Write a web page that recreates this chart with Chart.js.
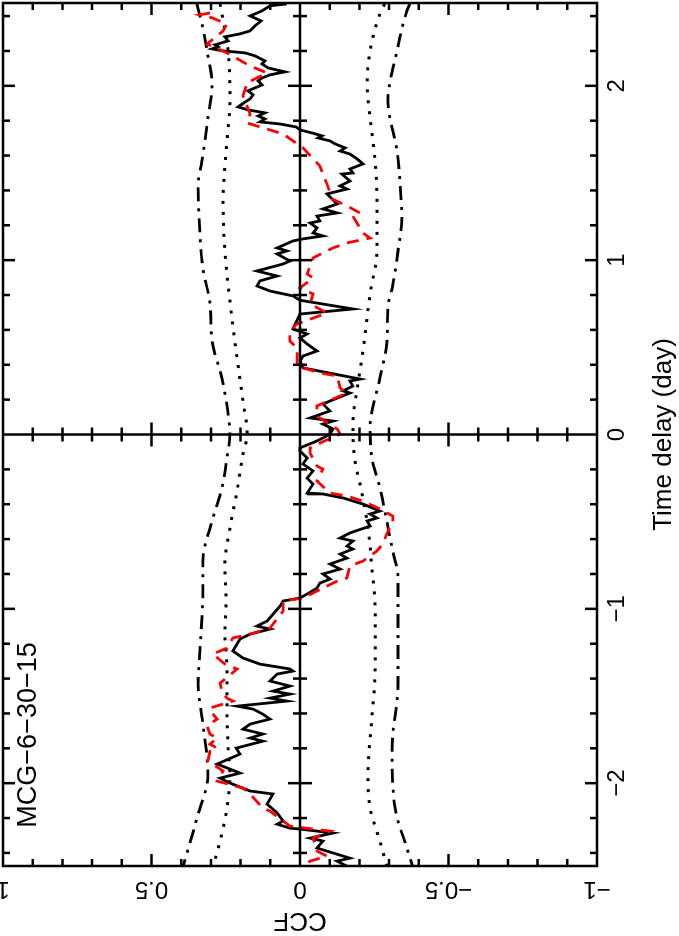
<!DOCTYPE html>
<html>
<head>
<meta charset="utf-8">
<script src="https://cdn.jsdelivr.net/npm/chart.js@4.4.1/dist/chart.umd.min.js"></script>
<style>
  html, body { margin: 0; padding: 0; background: #fff; overflow: hidden; }
  /* the plot is drawn upright and turned a quarter turn to the left */
  #wrap { position: absolute; left: 0; top: 0; width: 936px; height: 679px;
          transform-origin: 0 0; transform: translateY(936px) rotate(-90deg); }
</style>
</head>
<body>
<div id="wrap"><canvas id="ccfChart" width="936" height="679"></canvas></div>
<script>
const lagRange = [-2.475, 2.475];
const ccfRange = [-1, 1];
const ccfTicks = [1, 0.5, 0, -0.5, -1];
const ccfTickLabels = ['1', '0.5', '0', '\u22120.5', '\u22121'];
const sourceName = 'MCG\u22126\u221230\u221215';

// observed CCF (solid black)
const blackLag = [2.470, 2.459, 2.430, 2.401, 2.372, 2.344, 2.315, 2.298, 2.281, 2.258, 2.235, 2.224, 2.212, 2.201, 2.189, 2.172, 2.143, 2.126, 2.103, 2.080, 2.063, 2.045, 2.028, 2.005, 1.988, 1.971, 1.948, 1.925, 1.902, 1.879, 1.862, 1.845, 1.827, 1.810, 1.793, 1.781, 1.764, 1.747, 1.730, 1.713, 1.701, 1.684, 1.667, 1.644, 1.626, 1.609, 1.581, 1.552, 1.523, 1.500, 1.494, 1.454, 1.426, 1.408, 1.380, 1.322, 1.294, 1.271, 1.253, 1.225, 1.213, 1.185, 1.156, 1.139, 1.122, 1.110, 1.070, 1.053, 1.036, 0.995, 0.978, 0.938, 0.909, 0.881, 0.852, 0.823, 0.795, 0.770, 0.720, 0.691, 0.605, 0.577, 0.554, 0.519, 0.479, 0.450, 0.422, 0.382, 0.318, 0.307, 0.278, 0.250, 0.238, 0.209, 0.175, 0.135, 0.095, 0.077, 0.060, 0.032, 0.003, -0.020, -0.037, -0.077, -0.095, -0.135, -0.169, -0.209, -0.250, -0.284, -0.336, -0.341, -0.364, -0.399, -0.439, -0.456, -0.479, -0.496, -0.525, -0.565, -0.594, -0.611, -0.640, -0.657, -0.686, -0.709, -0.743, -0.772, -0.800, -0.829, -0.852, -0.881, -0.915, -0.938, -0.955, -0.984, -1.070, -1.099, -1.116, -1.145, -1.173, -1.202, -1.242, -1.282, -1.317, -1.345, -1.357, -1.374, -1.414, -1.443, -1.472, -1.489, -1.512, -1.529, -1.558, -1.575, -1.604, -1.632, -1.661, -1.690, -1.718, -1.741, -1.759, -1.799, -1.833, -1.890, -1.942, -1.971, -1.999, -2.045, -2.062, -2.120, -2.171, -2.217, -2.235, -2.258, -2.263, -2.286, -2.315, -2.332, -2.372, -2.430, -2.447, -2.476];
const blackCcf = [0.044, 0.101, 0.128, 0.168, 0.131, 0.152, 0.168, 0.202, 0.253, 0.242, 0.286, 0.276, 0.296, 0.263, 0.185, 0.152, 0.118, 0.128, 0.108, 0.051, 0.101, 0.128, 0.141, 0.128, 0.152, 0.175, 0.158, 0.168, 0.189, 0.209, 0.175, 0.118, 0.141, 0.118, 0.135, 0.067, 0.013, 0.000, -0.040, -0.074, -0.061, -0.101, -0.118, -0.152, -0.135, -0.168, -0.192, -0.212, -0.168, -0.178, -0.141, -0.168, -0.135, -0.158, -0.091, -0.125, -0.077, -0.125, -0.057, -0.067, -0.034, -0.057, -0.044, -0.077, -0.010, 0.024, 0.077, 0.044, 0.077, 0.034, 0.057, 0.145, 0.077, 0.135, 0.145, 0.101, 0.024, 0.000, -0.178, 0.000, 0.024, -0.024, 0.000, -0.024, -0.057, -0.010, 0.000, -0.010, -0.202, -0.168, -0.178, -0.145, -0.168, -0.125, -0.077, -0.101, -0.034, -0.111, -0.077, -0.111, -0.101, -0.077, -0.057, 0.000, 0.000, -0.024, -0.010, -0.044, -0.024, -0.044, -0.024, -0.077, -0.145, -0.212, -0.269, -0.236, -0.259, -0.226, -0.236, -0.168, -0.135, -0.178, -0.158, -0.178, -0.135, -0.158, -0.101, -0.135, -0.077, -0.101, -0.067, -0.057, -0.024, 0.000, 0.057, 0.067, 0.111, 0.145, 0.101, 0.168, 0.202, 0.212, 0.226, 0.192, 0.135, 0.034, 0.024, 0.077, 0.101, 0.034, 0.091, 0.034, 0.101, 0.044, 0.212, 0.158, 0.125, 0.101, 0.168, 0.192, 0.125, 0.168, 0.125, 0.215, 0.202, 0.279, 0.202, 0.269, 0.236, 0.168, 0.091, 0.111, 0.077, 0.057, 0.077, 0.034, 0.000, -0.111, -0.034, -0.077, -0.057, -0.168, -0.125, -0.158];

// second CCF (red dashed)
const redLag = [2.418, 2.407, 2.390, 2.355, 2.315, 2.240, 2.189, 2.114, 2.074, 2.017, 1.942, 1.839, 1.787, 1.724, 1.644, 1.540, 1.494, 1.437, 1.351, 1.311, 1.271, 1.253, 1.156, 1.127, 1.099, 1.070, 1.041, 1.013, 0.921, 0.898, 0.841, 0.806, 0.749, 0.697, 0.634, 0.594, 0.536, 0.496, 0.393, 0.353, 0.336, 0.267, 0.238, 0.164, 0.106, 0.032, 0.003, -0.049, -0.077, -0.106, -0.181, -0.198, -0.267, -0.336, -0.353, -0.382, -0.427, -0.468, -0.514, -0.554, -0.628, -0.668, -0.726, -0.754, -0.823, -0.841, -0.898, -0.938, -0.955, -1.013, -1.110, -1.145, -1.167, -1.225, -1.259, -1.317, -1.345, -1.426, -1.472, -1.512, -1.529, -1.569, -1.598, -1.632, -1.672, -1.718, -1.741, -1.776, -1.799, -1.816, -1.873, -1.930, -1.988, -2.028, -2.062, -2.143, -2.160, -2.217, -2.246, -2.275, -2.315, -2.389, -2.418, -2.447, -2.476];
const redCcf = [0.303, 0.337, 0.296, 0.246, 0.259, 0.313, 0.246, 0.168, 0.111, 0.178, 0.192, 0.168, 0.178, 0.057, -0.010, -0.067, -0.077, -0.091, -0.108, -0.158, -0.202, -0.178, -0.212, -0.236, -0.158, -0.111, -0.077, -0.044, -0.024, -0.044, 0.000, -0.044, -0.034, -0.091, 0.010, 0.034, 0.034, 0.010, 0.010, -0.067, -0.125, -0.135, -0.158, -0.057, -0.057, -0.125, -0.135, -0.067, -0.034, -0.034, -0.057, -0.077, -0.057, -0.101, -0.158, -0.212, -0.269, -0.313, -0.313, -0.296, -0.279, -0.259, -0.212, -0.168, -0.158, -0.125, -0.057, -0.010, 0.057, 0.057, 0.101, 0.168, 0.226, 0.246, 0.293, 0.253, 0.212, 0.269, 0.263, 0.246, 0.226, 0.303, 0.296, 0.279, 0.313, 0.303, 0.279, 0.303, 0.279, 0.303, 0.310, 0.259, 0.279, 0.192, 0.168, 0.125, 0.101, 0.057, 0.034, -0.101, -0.044, -0.057, -0.091, -0.034, -0.010];

// significance levels (dotted inner, dash-dot outer)
const dotUpperLag = [2.470, 2.201, 1.913, 1.626, 1.339, 1.053, 0.766, 0.439, 0.192, 0.003, -0.112, -0.324, -0.536, -0.743, -0.955, -1.145, -1.340, -1.529, -1.799, -1.948, -2.143, -2.332, -2.481];
const dotUpper = [0.269, 0.242, 0.236, 0.249, 0.259, 0.253, 0.236, 0.212, 0.192, 0.178, 0.192, 0.212, 0.236, 0.253, 0.249, 0.253, 0.246, 0.246, 0.242, 0.236, 0.246, 0.269, 0.293];
const dotLowerLag = [2.470, 2.412, 2.201, 2.011, 1.816, 1.569, 1.339, 1.053, 0.806, 0.479, 0.290, 0.060, -0.152, -0.284, -0.536, -0.766, -0.995, -1.340, -1.627, -1.948, -2.143, -2.332, -2.481];
const dotLower = [-0.285, -0.269, -0.236, -0.226, -0.236, -0.253, -0.259, -0.259, -0.236, -0.212, -0.195, -0.178, -0.185, -0.202, -0.229, -0.242, -0.253, -0.253, -0.242, -0.229, -0.236, -0.269, -0.293];
const dashUpperLag = [2.470, 2.332, 2.201, 2.011, 1.816, 1.569, 1.437, 1.150, 0.955, 0.749, 0.536, 0.324, 0.118, 0.003, -0.135, -0.307, -0.496, -0.726, -0.898, -1.242, -1.431, -1.661, -1.948, -2.200, -2.481];
const dashUpper = [0.347, 0.327, 0.313, 0.296, 0.310, 0.330, 0.343, 0.337, 0.327, 0.303, 0.296, 0.263, 0.242, 0.236, 0.246, 0.263, 0.296, 0.327, 0.327, 0.337, 0.343, 0.327, 0.310, 0.347, 0.394];
const dashLowerLag = [2.470, 2.430, 2.201, 1.913, 1.626, 1.437, 1.242, 1.053, 0.863, 0.726, 0.536, 0.324, 0.037, -0.135, -0.307, -0.651, -0.823, -0.995, -1.431, -1.799, -2.143, -2.372, -2.481];
const dashLower = [-0.370, -0.360, -0.327, -0.296, -0.327, -0.337, -0.343, -0.330, -0.313, -0.296, -0.293, -0.269, -0.236, -0.242, -0.269, -0.310, -0.330, -0.330, -0.330, -0.310, -0.320, -0.360, -0.380];

const FONT = 'Liberation Sans, Arial, sans-serif';

function toPoints(lags, vals) {
    return lags.map((t, i) => ({ x: t, y: vals[i] }));
}

function minus(v) {
    return String(v).replace('-', '\u2212');
}

// frame, inside ticks, zero axes and the rotated CCF labels
const pgFrame = {
    id: 'pgFrame',
    afterDatasetsDraw(chart) {
        const { ctx, chartArea: a, scales: { x, y } } = chart;
        ctx.save();
        ctx.strokeStyle = '#000';
        ctx.lineWidth = 2.5;
        ctx.lineCap = 'butt';
        ctx.strokeRect(a.left, a.top, a.right - a.left, a.bottom - a.top);

        const x0 = x.getPixelForValue(0);
        const y0 = y.getPixelForValue(0);
        ctx.beginPath();
        ctx.moveTo(a.left, y0); ctx.lineTo(a.right, y0);
        ctx.moveTo(x0, a.top); ctx.lineTo(x0, a.bottom);

        for (let k = -24; k <= 24; k += 2) {
            const px = x.getPixelForValue(k / 10);
            const len = k % 10 === 0 ? 12 : 7;
            ctx.moveTo(px, a.bottom); ctx.lineTo(px, a.bottom - len);
            ctx.moveTo(px, a.top); ctx.lineTo(px, a.top + len);
            ctx.moveTo(px, y0 - len); ctx.lineTo(px, y0 + len);
        }
        for (let k = -9; k <= 9; k++) {
            const py = y.getPixelForValue(k / 10);
            const len = k % 5 === 0 ? 12 : 7;
            ctx.moveTo(a.left, py); ctx.lineTo(a.left + len, py);
            ctx.moveTo(a.right, py); ctx.lineTo(a.right - len, py);
            ctx.moveTo(x0 - len, py); ctx.lineTo(x0 + len, py);
        }
        ctx.stroke();

        ctx.fillStyle = '#000';
        ctx.font = '24px ' + FONT;
        ctx.textAlign = 'center';
        ctx.textBaseline = 'alphabetic';
        ccfTicks.forEach((v, i) => {
            ctx.save();
            ctx.translate(a.left - 16, y.getPixelForValue(v));
            ctx.rotate(-Math.PI / 2);
            ctx.fillText(ccfTickLabels[i], 0, 0);
            ctx.restore();
        });

        ctx.font = '27px ' + FONT;
        ctx.textAlign = 'left';
        ctx.fillText(sourceName, x.getPixelForValue(-2.255), y.getPixelForValue(0.89));
        ctx.restore();
    }
};

const ctx = document.getElementById('ccfChart').getContext('2d');
new Chart(ctx, {
    type: 'line',
    data: {
        datasets: [
            {
                label: 'CCF 2',
                data: toPoints(redLag, redCcf),
                borderColor: '#ff0000',
                borderWidth: 2.8,
                borderDash: [12, 8]
            },
            {
                label: 'CCF',
                data: toPoints(blackLag, blackCcf),
                borderColor: '#000000',
                borderWidth: 2.8
            },
            {
                label: 'inner upper',
                data: toPoints(dotUpperLag, dotUpper),
                borderColor: '#000000',
                borderWidth: 3,
                borderDash: [3, 8],
                cubicInterpolationMode: 'monotone'
            },
            {
                label: 'inner lower',
                data: toPoints(dotLowerLag, dotLower),
                borderColor: '#000000',
                borderWidth: 3,
                borderDash: [3, 8],
                cubicInterpolationMode: 'monotone'
            },
            {
                label: 'outer upper',
                data: toPoints(dashUpperLag, dashUpper),
                borderColor: '#000000',
                borderWidth: 2.8,
                borderDash: [14, 7, 3, 7],
                cubicInterpolationMode: 'monotone'
            },
            {
                label: 'outer lower',
                data: toPoints(dashLowerLag, dashLower),
                borderColor: '#000000',
                borderWidth: 2.8,
                borderDash: [14, 7, 3, 7],
                cubicInterpolationMode: 'monotone'
            }
        ]
    },
    options: {
        responsive: false,
        animation: false,
        events: [],
        layout: { padding: { top: 3, right: 3, left: 0, bottom: 0 } },
        elements: { point: { radius: 0 }, line: { tension: 0, fill: false } },
        plugins: { legend: { display: false }, tooltip: { enabled: false } },
        scales: {
            x: {
                type: 'linear',
                min: lagRange[0],
                max: lagRange[1],
                grid: { display: false, drawTicks: false },
                border: { display: false },
                ticks: {
                    stepSize: 1,
                    includeBounds: false,
                    padding: 6,
                    color: '#000',
                    font: { family: FONT, size: 24 },
                    callback: v => minus(v)
                },
                title: {
                    display: true,
                    text: 'Time delay (day)',
                    color: '#000',
                    font: { family: FONT, size: 26 },
                    padding: { top: 0, bottom: 0 }
                },
                afterFit: s => { s.height = 82; }
            },
            y: {
                type: 'linear',
                min: ccfRange[0],
                max: ccfRange[1],
                grid: { display: false, drawTicks: false },
                border: { display: false },
                ticks: { display: false },
                title: {
                    display: true,
                    text: 'CCF',
                    color: '#000',
                    font: { family: FONT, size: 26 },
                    padding: { top: 0, bottom: 0 }
                },
                afterFit: s => { s.width = 70; }
            }
        }
    },
    plugins: [pgFrame]
});
</script>
</body>
</html>
